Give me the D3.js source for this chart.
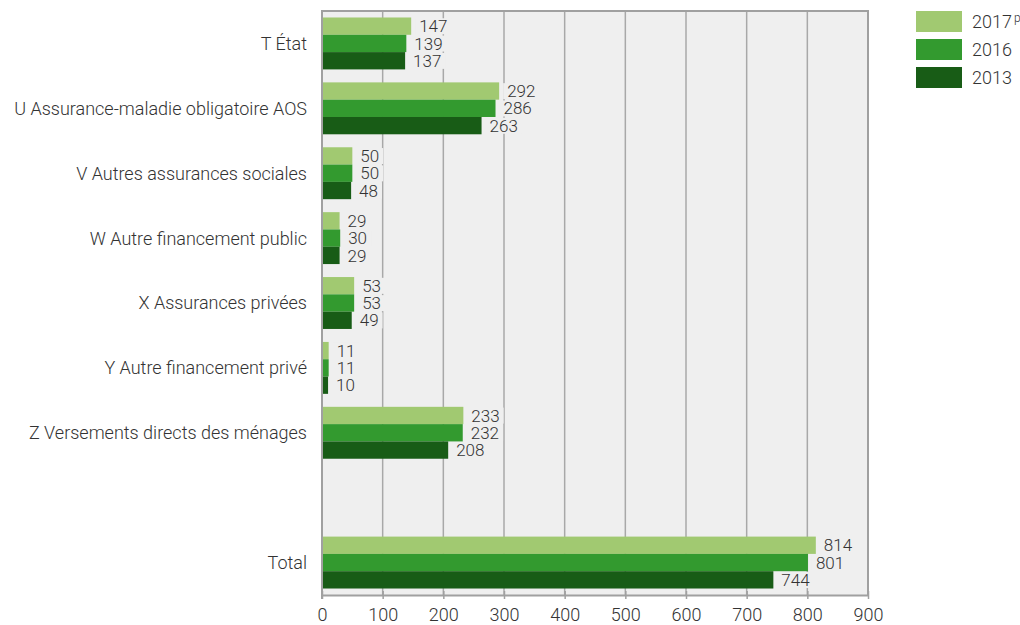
<!DOCTYPE html>
<html><head><meta charset="utf-8">
<script src="https://cdn.jsdelivr.net/npm/d3@7"></script>
<style>
body{margin:0;background:#fff;}
text{font-family:Roboto,sans-serif;font-weight:300;fill:#333;}
</style></head>
<body>
<svg id="c" width="1020" height="625"></svg>
<script>
const categories = ["T État","U Assurance-maladie obligatoire AOS","V Autres assurances sociales","W Autre financement public","X Assurances privées","Y Autre financement privé","Z Versements directs des ménages","","Total"];
const series = ["2017","2016","2013"];
const values2017 = [147,292,50,29,53,11,233,null,814];
const values2016 = [139,286,50,30,53,11,232,null,801];
const values2013 = [137,263,48,29,49,10,208,null,744];
const xTicks = [0,100,200,300,400,500,600,700,800,900];
const colors = ["#a1c971","#339a2f","#185c16"];

(function(){
const svg = d3.select("#c");
const pL = 322, pR = 868, pT = 11, pB = 595;
const FS = 18;
const x = d3.scaleLinear().domain([0,900]).range([pL,pR]);
const y = d3.scaleBand().domain(d3.range(categories.length)).range([pT,pB]).paddingInner(0.2).paddingOuter(0.1);
const inner = d3.scaleBand().domain(series).range([0,y.bandwidth()]);

svg.append("rect").attr("x",pL).attr("y",pT).attr("width",pR-pL).attr("height",pB-pT).attr("fill","#efefef");

svg.append("g").selectAll("line").data(xTicks.slice(1,-1)).join("line")
  .attr("x1",d=>x(d)).attr("x2",d=>x(d)).attr("y1",pT).attr("y2",pB)
  .attr("stroke","#a8a8a8").attr("stroke-width",1.5);

svg.append("line").attr("x1",pL).attr("x2",pR+1).attr("y1",pT).attr("y2",pT).attr("stroke","#a0a0a0").attr("stroke-width",2);
svg.append("line").attr("x1",pR).attr("x2",pR).attr("y1",pT).attr("y2",pB).attr("stroke","#a0a0a0").attr("stroke-width",2);

const data = series.map((s,i)=>({s, vals:[values2017,values2016,values2013][i], color:colors[i]}));

const rows = [];
categories.forEach((c,ci)=>{
  data.forEach(d=>{ if(d.vals[ci]!=null) rows.push({ci, s:d.s, v:d.vals[ci], color:d.color}); });
});

svg.append("g").selectAll("rect").data(rows).join("rect")
  .attr("x",x(0)).attr("y",d=>y(d.ci)+inner(d.s)).attr("width",d=>x(d.v)-x(0))
  .attr("height",inner.bandwidth()).attr("fill",d=>d.color);

const lg = svg.append("g");
rows.forEach(d=>{
  const cy = y(d.ci)+inner(d.s)+inner.bandwidth()/2;
  const g = lg.append("g");
  const t = g.append("text").attr("x",x(d.v)+8).attr("y",cy).attr("dy","0.36em")
    .attr("font-size",17).text(d.v);
  const bb = t.node().getBBox();
  g.insert("rect","text").attr("x",bb.x-4).attr("y",bb.y+2).attr("width",bb.width+8).attr("height",bb.height-4).attr("fill","#efefef");
});

svg.append("line").attr("x1",pL).attr("x2",pL).attr("y1",pT-1).attr("y2",pB+4).attr("stroke","#a0a0a0").attr("stroke-width",2);

const xa = svg.append("g").attr("transform",`translate(0,${pB})`)
  .call(d3.axisBottom(x).tickValues(xTicks).tickSize(4).tickSizeOuter(0));
xa.select(".domain").attr("stroke","#a0a0a0").attr("stroke-width",2);
xa.selectAll(".tick line").attr("stroke","#a0a0a0").attr("stroke-width",1.5).attr("y1",-4);
xa.selectAll(".tick text").attr("font-size",FS).attr("font-family","Roboto,sans-serif").attr("font-weight",300).attr("fill","#333").attr("dy","1.05em");

svg.append("g").selectAll("text").data(categories).join("text")
  .attr("x",307).attr("y",(d,i)=>y(i)+y.bandwidth()/2).attr("dy","0.36em")
  .attr("text-anchor","end").attr("font-size",FS).text(d=>d);

const leg = svg.append("g");
data.forEach((d,i)=>{
  leg.append("rect").attr("x",916).attr("y",11+i*28).attr("width",46).attr("height",21).attr("fill",d.color);
  const t = leg.append("text").attr("x",972).attr("y",11+i*28+10.5).attr("dy","0.36em").attr("font-size",FS);
  t.append("tspan").text(d.s);
  if(i===0) t.append("tspan").attr("font-size",12).attr("dy","-0.5em").attr("dx",2).text("p");
});
})();
</script>
</body></html>
